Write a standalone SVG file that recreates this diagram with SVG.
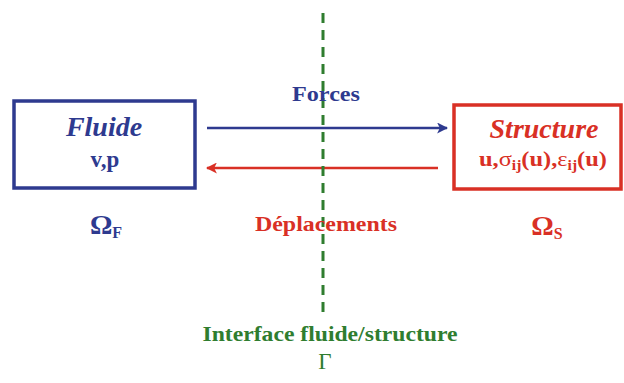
<svg xmlns="http://www.w3.org/2000/svg" width="624" height="383" viewBox="0 0 624 383">
<style>
text{font-family:"Liberation Serif","Times New Roman",serif;font-weight:bold;text-anchor:middle}
.b{fill:#2e3a8f}.r{fill:#d93025}.g{fill:#2f7d2f}
.box{fill:#fff;stroke-width:3.5}
.t{font-style:italic;font-size:28px}
.n{font-weight:normal}
</style>
<defs>
<marker id="ab" viewBox="0 0 10 10" refX="9" refY="5" markerWidth="11" markerHeight="11" markerUnits="userSpaceOnUse" orient="auto"><path d="M0,0 L10,5 L0,10 L2.5,5 Z" fill="#2e3a8f"/></marker>
<marker id="ar" viewBox="0 0 10 10" refX="9" refY="5" markerWidth="11" markerHeight="11" markerUnits="userSpaceOnUse" orient="auto"><path d="M0,0 L10,5 L0,10 L2.5,5 Z" fill="#d93025"/></marker>
</defs>
<rect width="624" height="383" fill="#fff"/>
<g id="connectors">
<line x1="207" y1="128" x2="447" y2="128" stroke="#2e3a8f" stroke-width="2.5" marker-end="url(#ab)"/>
<line x1="438" y1="168" x2="207" y2="168" stroke="#d93025" stroke-width="2.5" marker-end="url(#ar)"/>
</g>
<g id="interface">
<line x1="323" y1="13" x2="323" y2="316" stroke="#2f7d2f" stroke-width="3" stroke-dasharray="10 7"/>
<text class="g" x="330" y="341" font-size="22" textLength="255" lengthAdjust="spacingAndGlyphs">Interface fluide/structure</text>
<text class="g n" x="325" y="369" font-size="23">Γ</text>
</g>
<g id="fluide">
<rect class="box" x="14" y="101" width="181" height="87" stroke="#2e3a8f"/>
<text class="b t" x="104" y="136">Fluide</text>
<text class="b" x="105" y="167" font-size="23">v,p</text>
<text class="b" x="106" y="234" font-size="28">Ω<tspan font-size="16" dy="4">F</tspan></text>
</g>
<g id="structure">
<rect class="box" x="454" y="105" width="167" height="84" stroke="#d93025"/>
<text class="r t" x="544" y="138">Structure</text>
<text class="r" x="543" y="166" font-size="22" textLength="128" lengthAdjust="spacingAndGlyphs">u,<tspan class="n">σ</tspan><tspan font-size="14" dy="4">ij</tspan><tspan dy="-4">(u),</tspan><tspan class="n">ε</tspan><tspan font-size="14" dy="4">ij</tspan><tspan dy="-4">(u)</tspan></text>
<text class="r" x="547" y="235" font-size="28">Ω<tspan font-size="16" dy="4">S</tspan></text>
</g>
<g id="labels">
<text class="b" x="326" y="101" font-size="22" textLength="68" lengthAdjust="spacingAndGlyphs">Forces</text>
<text class="r" x="326" y="231" font-size="22" textLength="142" lengthAdjust="spacingAndGlyphs">Déplacements</text>
</g>
</svg>
